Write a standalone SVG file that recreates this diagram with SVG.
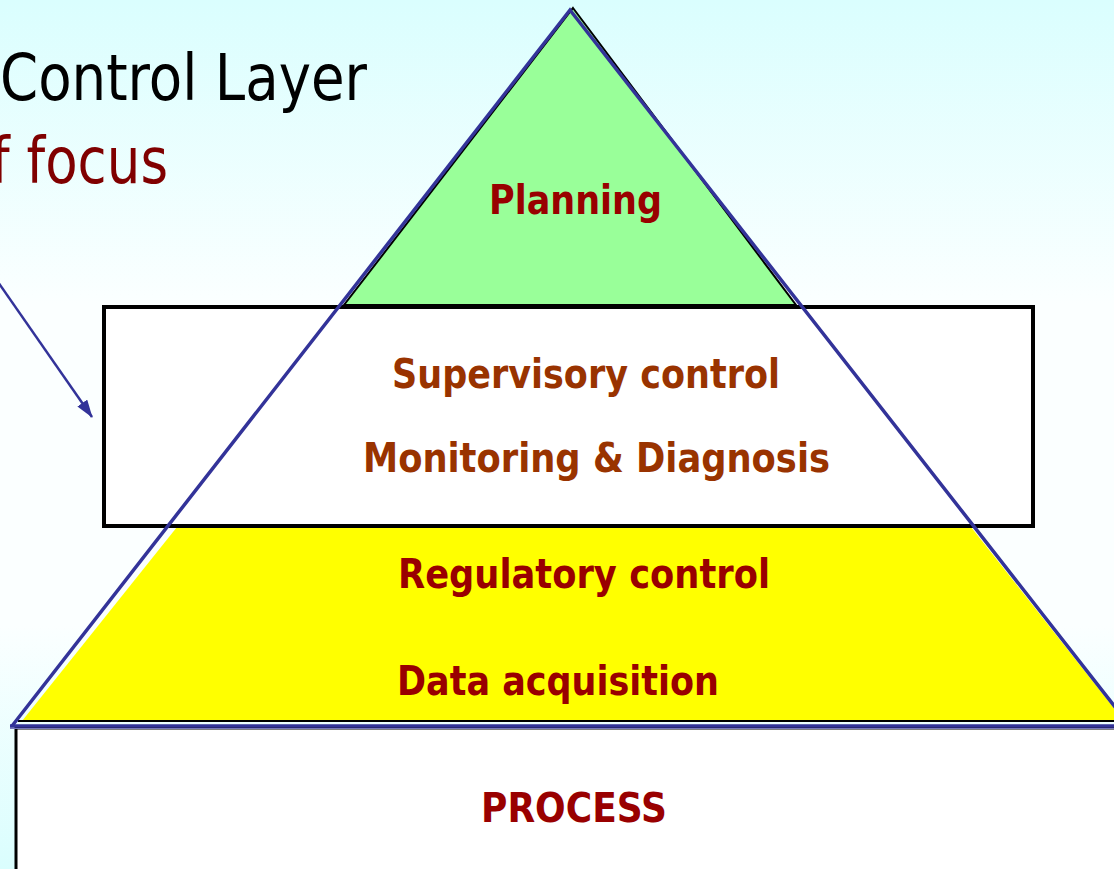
<svg xmlns="http://www.w3.org/2000/svg" width="1114" height="869" viewBox="0 0 1114 869">
  <defs>
    <linearGradient id="bg" x1="0" y1="0" x2="0" y2="1">
      <stop offset="0" stop-color="#dafefe"/>
      <stop offset="0.35" stop-color="#fbffff"/>
      <stop offset="0.72" stop-color="#fbffff"/>
      <stop offset="1" stop-color="#dafefe"/>
    </linearGradient>
    <marker id="arrowhead" viewBox="0 0 18 12" refX="17" refY="6" markerWidth="18" markerHeight="12" markerUnits="userSpaceOnUse" orient="auto">
      <path d="M0,0 L18,6 L0,12 z" fill="#333399"/>
    </marker>
    <style>
      .title { font-family: "DejaVu Sans", "Liberation Sans", sans-serif; font-size: 64px; }
      .label { font-family: "DejaVu Sans", "Liberation Sans", sans-serif; font-weight: bold; font-size: 41px; }
      .red { fill: #990000; }
      .brown { fill: #993300; }
      .outline { fill: none; stroke: #333399; stroke-width: 3.5; stroke-linejoin: miter; }
    </style>
  </defs>

  <!-- page background -->
  <rect x="0" y="0" width="1114" height="869" fill="url(#bg)"/>

  <!-- heading -->
  <text class="title" x="0" y="100" fill="#000000" textLength="367" lengthAdjust="spacingAndGlyphs">Control Layer</text>
  <text class="title" x="-9" y="183" fill="#800000" textLength="177" lengthAdjust="spacingAndGlyphs">f focus</text>

  <!-- top layer: planning -->
  <g id="planning">
    <polygon points="573,8 796,305 344,305" fill="#99ff99" stroke="#000000" stroke-width="2"/>
    <text class="label red" x="489" y="214" textLength="173" lengthAdjust="spacingAndGlyphs">Planning</text>
  </g>

  <!-- lower layer: regulatory control and data acquisition -->
  <g id="regulatory">
    <polygon points="177,527 971,527 1124,721 22,721" fill="#ffff00"/>
    <line x1="18" y1="721" x2="1114" y2="721" stroke="#000000" stroke-width="2"/>
    <text class="label red" x="398" y="588" textLength="372" lengthAdjust="spacingAndGlyphs">Regulatory control</text>
    <text class="label red" x="397" y="695" textLength="322" lengthAdjust="spacingAndGlyphs">Data acquisition</text>
  </g>

  <!-- middle layer: highlighted supervisory band -->
  <g id="supervisory">
    <rect x="104" y="307" width="929" height="219" fill="#ffffff" stroke="#000000" stroke-width="4"/>
    <text class="label brown" x="392" y="388" textLength="388" lengthAdjust="spacingAndGlyphs">Supervisory control</text>
    <text class="label brown" x="363" y="472" textLength="467" lengthAdjust="spacingAndGlyphs">Monitoring &amp; Diagnosis</text>
  </g>

  <!-- pyramid outline -->
  <g id="pyramid">
    <polyline class="outline" points="1130,726 570,10 12,726"/>
  </g>

  <!-- plant at the base -->
  <g id="process">
    <rect x="16" y="728" width="1110" height="150" fill="#ffffff" stroke="#000000" stroke-width="3"/>
    <line x1="10" y1="726" x2="1114" y2="726" stroke="#333399" stroke-width="3.5"/>
    <line x1="10" y1="728.5" x2="1114" y2="728.5" stroke="#7777bb" stroke-width="1"/>
    <text class="label red" x="481" y="822" textLength="186" lengthAdjust="spacingAndGlyphs">PROCESS</text>
  </g>

  <!-- pointer to the supervisory band -->
  <g id="connectors">
    <line x1="-2" y1="282" x2="92" y2="417" stroke="#333399" stroke-width="2.5" marker-end="url(#arrowhead)"/>
  </g>
</svg>
